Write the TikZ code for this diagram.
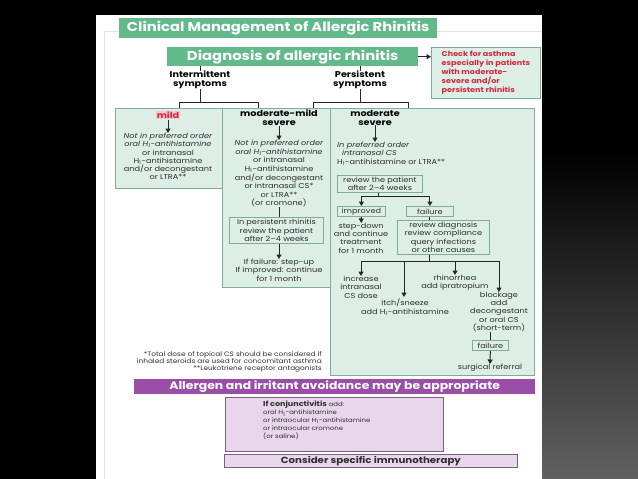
\documentclass[tikz,border=0pt]{standalone}
\usepackage{fontspec}
\setmainfont{Poppins}[FakeStretch=1.15]
\usetikzlibrary{arrows.meta}
\definecolor{bargreen}{RGB}{98,186,138}
\definecolor{boxgreen}{RGB}{220,238,229}
\definecolor{edgegreen}{RGB}{128,172,150}
\definecolor{barpurple}{RGB}{154,78,168}
\definecolor{boxlilac}{RGB}{233,214,236}
\definecolor{edgelilac}{RGB}{118,96,122}
\definecolor{alertred}{RGB}{214,38,62}
\definecolor{tagpink}{RGB}{246,200,206}
\definecolor{inkgrey}{RGB}{45,45,45}
\definecolor{framegrey}{RGB}{222,228,226}
\tikzset{
  bar/.style={fill=bargreen, text=white, inner sep=0pt, anchor=north west},
  panel/.style={draw=edgegreen, fill=boxgreen, line width=0.8pt, inner sep=0pt, anchor=north west},
  inbox/.style={draw=edgegreen, line width=0.8pt, inner sep=1pt, align=center, text=inkgrey,
    font=\fontsize{7.1}{8.2}\selectfont, anchor=north west},
  note/.style={align=center, text=inkgrey, inner sep=0pt, font=\fontsize{7.1}{8.2}\selectfont},
  head/.style={align=center, inner sep=0pt, font=\bfseries\fontsize{8.4}{8.8}\selectfont},
  wire/.style={draw=black!85, line width=1pt},
  link/.style={wire, -{Triangle[length=4.5pt,width=5pt]}}
}
\newcommand{\Hone}{H\textsubscript{1}}

\begin{document}
\begin{tikzpicture}[x=1pt,y=-1pt]
\useasboundingbox (0,0) rectangle (638,479);
% slide backdrop and page
\fill[black] (0,0) rectangle (638,479);
\shade[top color=black, bottom color=black!62!white] (542,150) rectangle (638,479);
\fill[white] (96,15) rectangle (542,479);
\draw[framegrey, line width=0.8pt] (104,479) -- (104,31) -- (542,31);

% headings
\node[bar, minimum width=318pt, minimum height=20pt, font=\bfseries\fontsize{12.8}{14}\selectfont]
  (title) at (119,18) {Clinical Management of Allergic Rhinitis};
\node[bar, minimum width=251pt, minimum height=19pt, font=\bfseries\fontsize{12.9}{14}\selectfont]
  (diag) at (167,47) {Diagnosis of allergic rhinitis};
\node[panel, inner sep=4pt, minimum height=49pt, minimum width=109pt, align=left, text=alertred,
  font=\bfseries\fontsize{7}{9}\selectfont] (asthma) at (431,47)
  {Check for asthma\\especially in patients\\with moderate-\\severe and/or\\persistent rhinitis};
\draw[link] (diag.east) -- (diag.east -| asthma.west);

\node[head] (inter) at (200,80) {Intermittent\\symptoms};
\node[head] (persist) at (360,80) {Persistent\\symptoms};
\draw[wire] (inter.north |- diag.south) -- (inter.north);
\draw[wire] (persist.north |- diag.south) -- (persist.north);

% three columns
\node[panel, minimum width=107pt, minimum height=80pt] (mild) at (115,108) {};
\node[panel, minimum width=108pt, minimum height=179pt] (midbox) at (222,108) {};
\node[panel, minimum width=204pt, minimum height=267pt] (sevbox) at (330,108) {};

\coordinate (il) at (179,102);
\coordinate (ir) at (258,102);
\coordinate (pl) at (313,102);
\coordinate (pr) at (408,102);
\draw[wire] (inter.south) -- (inter.south |- il);
\draw[wire] (il |- mild.north) -- (il) -- (ir) -- (ir |- mild.north);
\draw[wire] (persist.south) -- (persist.south |- pl);
\draw[wire] (pl |- mild.north) -- (pl) -- (pr) -- (pr |- mild.north);

% mild
\node[head, text=alertred, fill=tagpink, inner sep=1pt] (mildtag) at (168,115) {mild};
\node[note, anchor=north] (mildtext) at (168,133)
  {\textit{Not in preferred order}\\\textit{oral \Hone-antihistamine}\\or intranasal\\\Hone-antihistamine\\and/or decongestant\\or LTRA**};
\draw[link] (mildtag) -- (mildtext);

% moderate-mild severe
\node[head, anchor=north] (mmtitle) at (279,110) {moderate-mild\\severe};
\node[note, anchor=north, font=\fontsize{7.1}{8.6}\selectfont] (mmtext) at (279,140)
  {\textit{Not in preferred order}\\\textit{oral \Hone-antihistamine}\\or intranasal\\\Hone-antihistamine\\and/or decongestant\\or intranasal CS*\\or LTRA**\\(or cromone)};
\node[inbox, minimum width=94pt, minimum height=26pt] (mmreview) at (229,217)
  {In persistent rhinitis\\review the patient\\after 2--4 weeks};
\node[note, anchor=north] (mmstep) at (279,259) {If failure: step-up\\If improved: continue\\for 1 month};
\draw[link] (mmtitle) -- (mmtext);
\draw[wire] (mmtext) -- (mmtext |- mmreview.north);
\draw[link] (mmreview.south -| mmstep.north) -- (mmstep);

% moderate severe
\node[head, anchor=north] (mstitle) at (375,110) {moderate\\severe};
\node[note, anchor=north west, align=left] (mstext) at (337,142)
  {\textit{In preferred order}\\\hspace{5pt}\textit{intranasal CS}\\\Hone-antihistamine or LTRA**};
\node[inbox, minimum width=85pt, minimum height=17pt] (msreview) at (337,175)
  {review the patient\\after 2--4 weeks};
\node[inbox, minimum width=48pt, minimum height=10pt] (improved) at (337,206) {improved};
\node[inbox, minimum width=47pt, minimum height=10pt] (failure) at (406,206) {failure};
\node[note, anchor=north] (stepdown) at (361,223) {step-down\\and continue\\treatment\\for 1 month};
\node[inbox, minimum width=92pt, minimum height=34pt] (causes) at (397,220)
  {review diagnosis\\review compliance\\query infections\\or other causes};
\draw[link] (mstitle.south) -- (mstitle.south |- mstext.north);

\coordinate (fork) at (378,196);
\draw[wire] (msreview.south -| fork) -- (fork);
\draw[wire] (improved.north |- fork) -- (failure.north |- fork);
\draw[link] (improved.north |- fork) -- (improved.north);
\draw[link] (failure.north |- fork) -- (failure.north);
\draw[link] (improved) -- (stepdown);
\draw[wire] (failure.south) -- (failure.south |- causes.north);

\node[note, anchor=north] (incr) at (361,276) {increase\\intranasal\\CS dose};
\node[note, anchor=north] (itch) at (405,299) {itch/sneeze\\add \Hone-antihistamine};
\node[note, anchor=north] (rhino) at (455,275) {rhinorrhea\\add ipratropium};
\node[note, anchor=north] (block) at (499,292) {blockage\\add\\decongestant\\or oral CS\\(short-term)};
\node[inbox, minimum width=36pt, minimum height=10pt] (fail2) at (472,340) {failure};
\node[note, anchor=north] (surgery) at (490,364) {surgical referral};

\coordinate (split) at (429,261);
\draw[wire] (causes.south -| split) -- (split);
\draw[wire] (incr.north |- split) -- (block.north |- split);
\draw[link] (incr.north |- split) -- (incr.north);
\draw[link] (404,261) -- (404,297);
\draw[link] (rhino.north |- split) -- (rhino.north);
\draw[link] (block.north |- split) -- (block.north);
\draw[wire] (fail2.north |- block.south) -- (fail2.north);
\draw[link] (fail2) -- (surgery);

% footnote
\node[note, anchor=north east, align=right, font=\fontsize{6.4}{7}\selectfont] (footnote) at (322,351)
  {*Total dose of topical CS should be considered if\\inhaled steroids are used for concomitant asthma\\**Leukotriene receptor antagonists};

% purple band
\node[bar, fill=barpurple, minimum width=401pt, minimum height=15pt, font=\bfseries\fontsize{10.8}{12}\selectfont]
  (avoid) at (134,379) {Allergen and irritant avoidance may be appropriate};
\node[panel, fill=boxlilac, draw=edgelilac, minimum width=218pt, minimum height=54pt] (conj) at (225,397) {};
\node[note, anchor=north west, align=left, font=\fontsize{6}{7.8}\selectfont] (conjtext) at (263,401)
  {{\bfseries\fontsize{7}{7.8}\selectfont If conjunctivitis} add:\\oral \Hone-antihistamine\\or intraocular \Hone-antihistamine\\or intraocular cromone\\(or saline)};
\node[panel, fill=boxlilac, draw=edgelilac, minimum width=293pt, minimum height=13pt,
  font=\bfseries\fontsize{8.9}{11}\selectfont, text=inkgrey] (immuno) at (224,454) {Consider specific immunotherapy};
\end{tikzpicture}
\end{document}
